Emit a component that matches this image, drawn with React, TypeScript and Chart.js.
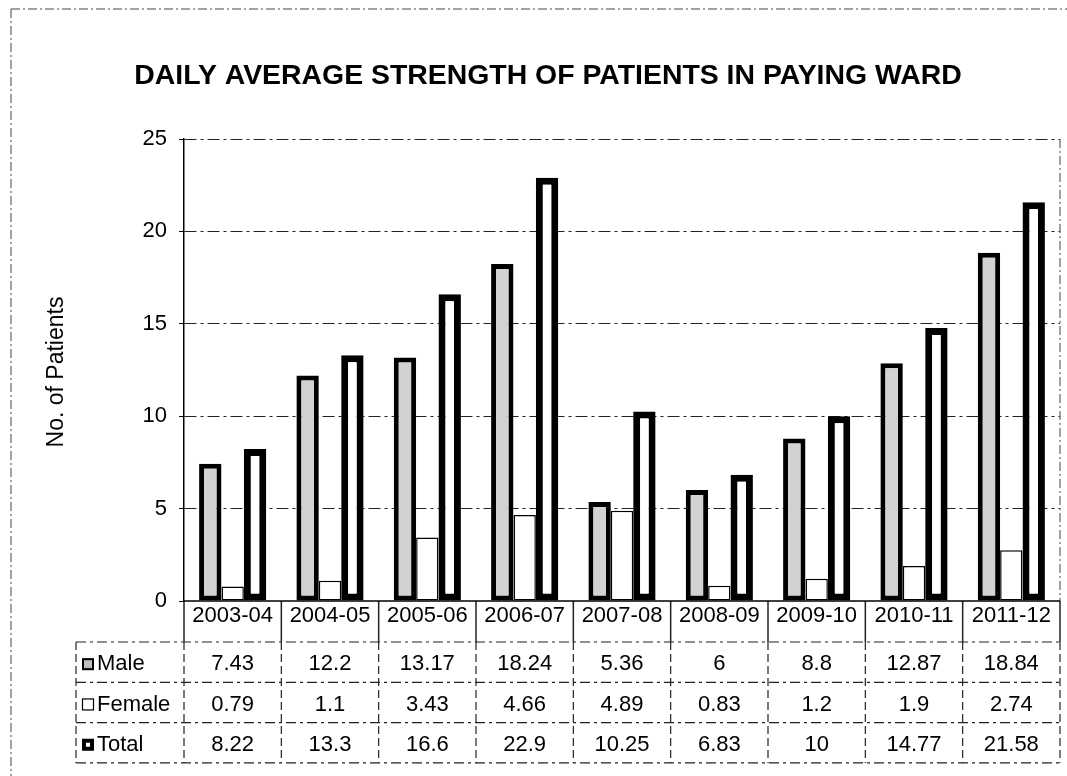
import React, { useEffect, useRef } from "react";
import { Chart, registerables } from "chart.js";

Chart.register(...registerables);

const categories = ["2003-04", "2004-05", "2005-06", "2006-07", "2007-08", "2008-09", "2009-10", "2010-11", "2011-12"];
const maleValues = [7.43, 12.2, 13.17, 18.24, 5.36, 6, 8.8, 12.87, 18.84];
const femaleValues = [0.79, 1.1, 3.43, 4.66, 4.89, 0.83, 1.2, 1.9, 2.74];
const totalValues = [8.22, 13.3, 16.6, 22.9, 10.25, 6.83, 10, 14.77, 21.58];
const seriesNames = ["Male", "Female", "Total"];
const yTicks = [0, 5, 10, 15, 20, 25];
const titleText = "DAILY AVERAGE STRENGTH OF PATIENTS IN PAYING WARD";
const yTitle = "No. of Patients";

const FONT = "'Liberation Sans', Arial, sans-serif";

const tablePlugin = {
  id: "dataTable",
  afterDraw(chart: any) {
    const ctx: CanvasRenderingContext2D = chart.ctx;
    const area = chart.chartArea;
    const xs = chart.scales.x;
    const n = categories.length;
    const colW = xs.getPixelForValue(1) - xs.getPixelForValue(0);
    const firstLeft = xs.getPixelForValue(0) - colW / 2;
    const bounds: number[] = [];
    for (let k = 0; k <= n; k++) bounds.push(firstLeft + k * colW);
    const top = area.bottom;
    const headerH = 41;
    const rowH = 40.3;
    const labelLeft = 76;
    const rowTops = [top + headerH, top + headerH + rowH, top + headerH + 2 * rowH, top + headerH + 3 * rowH];

    ctx.save();
    // frame
    ctx.strokeStyle = "#444";
    ctx.lineWidth = 1;
    ctx.setLineDash([9, 3, 2, 3]);
    ctx.beginPath();
    ctx.moveTo(11, 9);
    ctx.lineTo(chart.width, 9);
    ctx.moveTo(11, 9);
    ctx.lineTo(11, chart.height);
    ctx.stroke();
    // plot area right border
    ctx.beginPath();
    ctx.moveTo(area.right, area.top);
    ctx.lineTo(area.right, area.bottom);
    ctx.stroke();

    // table horizontal lines
    ctx.strokeStyle = "#222";
    ctx.setLineDash([10, 4, 3, 4]);
    ctx.lineWidth = 1.2;
    rowTops.forEach((y) => {
      ctx.beginPath();
      ctx.moveTo(labelLeft, y);
      ctx.lineTo(bounds[n], y);
      ctx.stroke();
    });
    // vertical lines
    bounds.forEach((x) => {
      ctx.beginPath();
      ctx.setLineDash([]);
      ctx.lineWidth = 1.5;
      ctx.moveTo(x, top);
      ctx.lineTo(x, rowTops[0]);
      ctx.stroke();
      ctx.beginPath();
      ctx.setLineDash([8, 4]);
      ctx.lineWidth = 1.2;
      ctx.moveTo(x, rowTops[0]);
      ctx.lineTo(x, rowTops[3]);
      ctx.stroke();
    });
    ctx.beginPath();
    ctx.setLineDash([8, 4]);
    ctx.moveTo(labelLeft, rowTops[0]);
    ctx.lineTo(labelLeft, rowTops[3]);
    ctx.stroke();
    // axis line at zero
    ctx.setLineDash([]);
    ctx.lineWidth = 1.5;
    ctx.strokeStyle = "#000";
    ctx.beginPath();
    ctx.moveTo(area.left, top);
    ctx.lineTo(bounds[n], top);
    ctx.stroke();

    // text
    ctx.fillStyle = "#000";
    ctx.textAlign = "center";
    ctx.textBaseline = "middle";
    ctx.font = `22px ${FONT}`;
    categories.forEach((c, i) => {
      ctx.fillText(c, (bounds[i] + bounds[i + 1]) / 2, top + 15);
    });
    const rows = [maleValues, femaleValues, totalValues];
    rows.forEach((vals, r) => {
      const cy = rowTops[r] + rowH / 2 + 2;
      vals.forEach((v, i) => {
        ctx.fillText(String(v), (bounds[i] + bounds[i + 1]) / 2, cy);
      });
    });
    // legend labels
    ctx.textAlign = "left";
    seriesNames.forEach((name, r) => {
      const cy = rowTops[r] + rowH / 2 + 2;
      const sx = 82;
      const s = 12;
      if (r === 0) {
        ctx.fillStyle = "#bdbdbd";
        ctx.fillRect(sx, cy - s / 2, s, s);
        ctx.strokeStyle = "#000";
        ctx.lineWidth = 2;
        ctx.strokeRect(sx + 1, cy - s / 2 + 1, s - 2, s - 2);
      } else if (r === 1) {
        ctx.fillStyle = "#fff";
        ctx.fillRect(sx, cy - s / 2, s, s);
        ctx.strokeStyle = "#000";
        ctx.lineWidth = 1.2;
        ctx.strokeRect(sx + 0.5, cy - s / 2 + 0.5, s - 1, s - 1);
      } else {
        ctx.fillStyle = "#000";
        ctx.fillRect(sx, cy - s / 2, s, s);
        ctx.fillStyle = "#fff";
        ctx.fillRect(sx + 4, cy - s / 2 + 4, 4, 4);
      }
      ctx.fillStyle = "#000";
      ctx.font = `22px ${FONT}`;
      ctx.fillText(name, sx + s + 3, cy);
    });

    // title
    ctx.textAlign = "center";
    ctx.font = `bold 24px ${FONT}`;
    const w24 = ctx.measureText(titleText).width;
    const fs = (24 * 828) / w24;
    ctx.font = `bold ${fs}px ${FONT}`;
    ctx.fillText(titleText, 548, 76);

    // y title
    ctx.save();
    ctx.translate(57, 372);
    ctx.rotate(-Math.PI / 2);
    ctx.font = `23px ${FONT}`;
    ctx.fillText(yTitle, 0, 0);
    ctx.restore();

    ctx.restore();
  },
};

export default function App() {
  const ref = useRef<HTMLCanvasElement>(null);
  useEffect(() => {
    document.body.style.margin = "0";
    const canvas = ref.current!;
    const chart = new Chart(canvas, {
      type: "bar",
      data: {
        labels: categories,
        datasets: [
          {
            label: seriesNames[0],
            data: maleValues,
            backgroundColor: "#d2d2d2",
            borderColor: "#000",
            borderWidth: 5,
            borderSkipped: false,
          },
          {
            label: seriesNames[1],
            data: femaleValues,
            backgroundColor: "#fff",
            borderColor: "#000",
            borderWidth: 1.5,
            borderSkipped: false,
          },
          {
            label: seriesNames[2],
            data: totalValues,
            backgroundColor: "#fff",
            borderColor: "#000",
            borderWidth: 7,
            borderSkipped: false,
          },
        ],
      },
      options: {
        responsive: false,
        animation: false,
        devicePixelRatio: 1,
        layout: { padding: { left: 0, right: 7, top: 139, bottom: 175 } },
        datasets: { bar: { categoryPercentage: 0.69, barPercentage: 1 } },
        plugins: {
          legend: { display: false },
          title: { display: false },
          tooltip: { enabled: false },
        },
        scales: {
          x: { display: false },
          y: {
            min: yTicks[0],
            max: yTicks[yTicks.length - 1],
            afterFit: (scale: any) => {
              scale.width = 184;
            },
            afterBuildTicks: (scale: any) => {
              scale.ticks = yTicks.map((v) => ({ value: v }));
            },
            ticks: {
              font: { family: FONT, size: 22 },
              color: "#000",
              padding: 12,
            },
            grid: {
              color: (c: any) => (c.tick && c.tick.value === 0 ? "rgba(0,0,0,0)" : "#222"),
              lineWidth: 1,
              drawTicks: true,
              tickLength: 5,
              tickColor: "#000",
            },
            border: { display: true, color: "#000", width: 1.5, dash: [12, 4, 3, 4] },
          },
        },
      },
      plugins: [tablePlugin],
    });
    return () => chart.destroy();
  }, []);
  return (
    <div style={{ width: 1067, height: 776, background: "#fff" }}>
      <canvas ref={ref} width={1067} height={776} style={{ display: "block" }} />
    </div>
  );
}
